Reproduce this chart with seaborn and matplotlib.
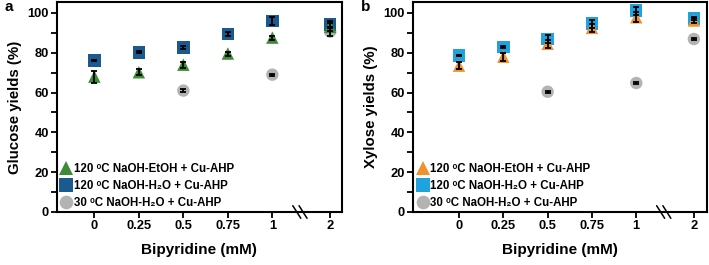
import numpy as np
import pandas as pd
import seaborn as sns
import matplotlib.pyplot as plt
from matplotlib.transforms import blended_transform_factory

# ---- data ----
conc_labels = ['0', '0.25', '0.5', '0.75', '1', '2']
conc_pos = [0, 1, 2, 3, 4, 5.3]          # categorical positions, axis break before 2 mM

series_names = ['120 \u1d52C NaOH-EtOH + Cu-AHP',
                '120 \u1d52C NaOH-H\u2082O + Cu-AHP',
                '30 \u1d52C NaOH-H\u2082O + Cu-AHP']

# glucose (panel a)
glu_etoh = [68.0, 70.2, 74.0, 79.6, 87.6, 93.0]
glu_etoh_err = [3.0, 1.5, 1.5, 1.0, 1.0, 2.0]
glu_h2o = [76.2, 80.2, 82.6, 89.4, 96.0, 94.2]
glu_h2o_err = [0.4, 0.5, 0.8, 1.0, 2.0, 1.5]
glu_cold = [61.0, 69.0, 90.6]
glu_cold_err = [0.7, 0.5, 2.0]

# xylose (panel b)
xyl_etoh = [73.5, 78.0, 84.5, 92.5, 97.8, 96.2]
xyl_etoh_err = [1.8, 2.0, 2.0, 2.0, 2.5, 1.5]
xyl_h2o = [78.6, 82.8, 86.8, 94.6, 101.2, 97.3]
xyl_h2o_err = [0.3, 0.4, 2.0, 2.0, 2.0, 0.8]
xyl_cold = [60.4, 64.8, 86.9]
xyl_cold_err = [0.5, 0.4, 0.4]

cold_idx = [2, 4, 5]   # 0.5, 1 and 2 mM only


def build(etoh, etoh_err, h2o, h2o_err, cold, cold_err):
    rows = []
    # draw order: circles, squares, triangles on top
    for i, v, e in zip(cold_idx, cold, cold_err):
        rows.append((conc_pos[i], v, e, series_names[2]))
    for p, v, e in zip(conc_pos, h2o, h2o_err):
        rows.append((p, v, e, series_names[1]))
    for p, v, e in zip(conc_pos, etoh, etoh_err):
        rows.append((p, v, e, series_names[0]))
    return pd.DataFrame(rows, columns=['pos', 'y', 'err', 'series'])


df_a = build(glu_etoh, glu_etoh_err, glu_h2o, glu_h2o_err, glu_cold, glu_cold_err)
df_b = build(xyl_etoh, xyl_etoh_err, xyl_h2o, xyl_h2o_err, xyl_cold, xyl_cold_err)

sns.set_theme(style='ticks', rc={'text.color': 'black', 'axes.labelcolor': 'black',
                                 'xtick.color': 'black', 'ytick.color': 'black'})
plt.rcParams['font.family'] = ['Liberation Sans', 'DejaVu Sans']
plt.rcParams['font.weight'] = 'bold'

fig = plt.figure(figsize=(7.09, 2.65), dpi=100)
ax_a = fig.add_axes([0.0804, 0.2, 0.4016, 0.7925])
ax_b = fig.add_axes([0.583, 0.2, 0.4138, 0.7925])

markers = {series_names[0]: '^', series_names[1]: 's', series_names[2]: 'o'}
pal_a = {series_names[0]: '#3d8b37', series_names[1]: '#1b5a8e', series_names[2]: '#b3b3b3'}
pal_b = {series_names[0]: '#f0922c', series_names[1]: '#1fa2dd', series_names[2]: '#b3b3b3'}

panels = [
    (ax_a, df_a, pal_a, 'Glucose yields (%)', 'a', (-0.84, 5.56)),
    (ax_b, df_b, pal_b, 'Xylose yields (%)', 'b', (-1.03, 5.59)),
]

for ax, df, pal, ylab, letter, xl in panels:
    sns.scatterplot(data=df, x='pos', y='y', hue='series', style='series',
                    hue_order=series_names, style_order=series_names,
                    markers=markers, palette=pal, s=80, edgecolor='none',
                    linewidth=0, ax=ax, zorder=2)
    ax.errorbar(df['pos'], df['y'], yerr=df['err'], fmt='none', ecolor='black',
                elinewidth=1.3, capsize=2.2, capthick=1.3, zorder=3)

    ax.set_xlim(*xl)
    ax.set_ylim(0, 105.5)
    ax.set_xticks(conc_pos)
    ax.set_xticklabels(conc_labels)
    ax.set_yticks([0, 20, 40, 60, 80, 100])
    ax.set_yticks([10, 30, 50, 70, 90], minor=True)
    ax.tick_params(axis='both', which='major', labelsize=9.3, width=1.3, length=4,
                   direction='out', pad=2)
    ax.tick_params(axis='y', which='minor', width=1.3, length=4, direction='out')
    for lab in ax.get_xticklabels() + ax.get_yticklabels():
        lab.set_fontweight('bold')
    ax.set_xlabel('Bipyridine (mM)', fontsize=11, fontweight='bold', labelpad=8)
    ax.set_ylabel(ylab, fontsize=10.8, fontweight='bold', labelpad=4)
    for sp in ax.spines.values():
        sp.set_visible(True)
        sp.set_linewidth(1.5)
        sp.set_color('black')

    # axis break mark
    tr = blended_transform_factory(ax.transData, ax.transAxes)
    for dx in (-0.07, 0.07):
        xb = 4.62 + dx
        ax.plot([xb - 0.09, xb + 0.09], [0.03, -0.03], color='black', lw=1.1,
                transform=tr, clip_on=False, zorder=5)

    handles, labels = ax.get_legend_handles_labels()
    ax.legend(handles, labels, loc='lower left', frameon=False,
              prop={'size': 8.3, 'weight': 'bold'}, handletextpad=0.15,
              labelspacing=0.4, borderaxespad=0.1, borderpad=0.2,
              handlelength=1.0, markerscale=1.1)

    fig.text(ax.get_position().x0 - 0.074, 0.96, letter, fontsize=11,
             fontweight='bold')

fig.savefig('out.png', dpi=100)
